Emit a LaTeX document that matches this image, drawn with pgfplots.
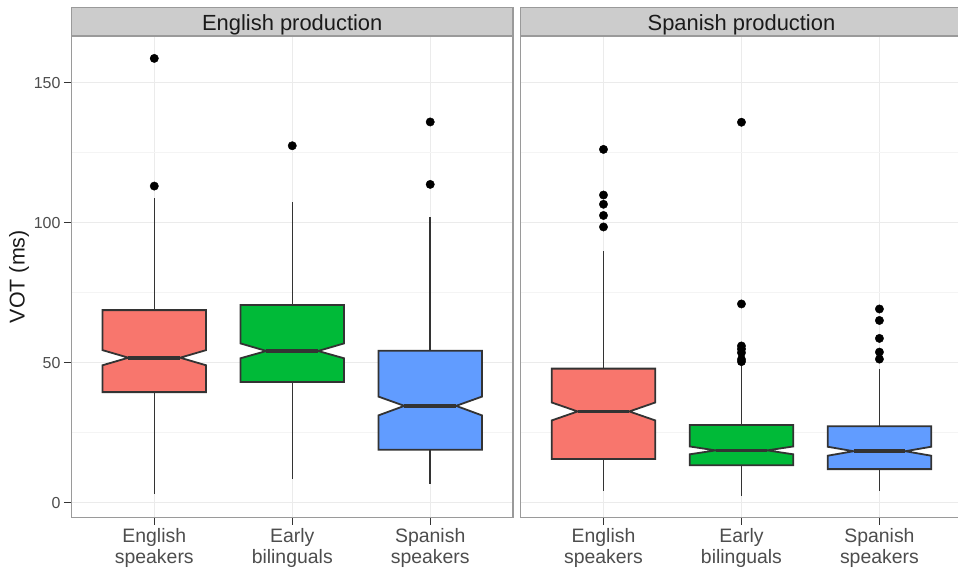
\documentclass[border=0pt]{standalone}
\usepackage{pgfplots}
\pgfplotsset{compat=1.18}
\usepackage{fontspec}
\setmainfont{Liberation Sans}

\definecolor{ggred}{HTML}{F8766D}
\definecolor{gggreen}{HTML}{00BA38}
\definecolor{ggblue}{HTML}{619CFF}
\definecolor{gridmajor}{HTML}{EBEBEB}
\definecolor{gridminor}{HTML}{F4F4F4}
\definecolor{bordergrey}{HTML}{9A9A9A}
\definecolor{stripfill}{HTML}{CCCCCC}
\definecolor{tickgrey}{HTML}{4D4D4D}
\definecolor{ink}{HTML}{333333}
\definecolor{striptext}{HTML}{1A1A1A}

% one notched box: x, lower whisker, Q1, notch low, median, notch high, Q3, upper whisker, fill
\newcommand{\notchbox}[9]{%
  \pgfmathsetmacro{\xl}{#1-0.375}%
  \pgfmathsetmacro{\xr}{#1+0.375}%
  \pgfmathsetmacro{\nl}{#1-0.1875}%
  \pgfmathsetmacro{\nr}{#1+0.1875}%
  \edef\doplots{%
    \noexpand\addplot[whisker] coordinates {(#1,#2) (#1,#3)};
    \noexpand\addplot[whisker] coordinates {(#1,#7) (#1,#8)};
    \noexpand\addplot[boxline, fill=#9] coordinates {(\xl,#3) (\xr,#3) (\xr,#4) (\nr,#5) (\xr,#6) (\xr,#7) (\xl,#7) (\xl,#6) (\nl,#5) (\xl,#4)} -- cycle;
    \noexpand\addplot[medianline] coordinates {(\nl,#5) (\nr,#5)};
  }%
  \doplots
}

\pgfplotsset{
  whisker/.style={draw=ink, line width=1.5bp},
  boxline/.style={draw=ink, line width=1.8bp, line join=miter},
  medianline/.style={draw=ink, line width=3.6bp},
  outlier/.style={only marks, mark=*, mark size=4.2bp, mark options={fill=black, draw=black}},
  facet/.style={
    scale only axis, width=441.5bp, height=481.3bp,
    xmin=0.4, xmax=3.6, ymin=-5.2, ymax=166.7,
    xtick={1,2,3},
    xticklabels={{English\\speakers},{Early\\bilinguals},{Spanish\\speakers}},
    xticklabel style={align=center, font=\fontsize{19.5}{21}\selectfont, text=tickgrey},
    ytick={0,50,100,150}, minor ytick={25,75,125},
    yticklabel style={font=\fontsize{16}{18}\selectfont, text=tickgrey},
    /pgf/number format/assume math mode=true,
    xmajorgrids, ymajorgrids, yminorgrids,
    major grid style={draw=gridmajor, line width=1.2bp},
    minor grid style={draw=gridminor, line width=0.9bp},
    axis line style={draw=bordergrey, line width=1.2bp},
    tick align=outside, tick pos=left,
    major tick length=7.5bp, minor tick length=0bp,
    tick style={draw=ink, line width=1.2bp},
  },
}

\begin{document}
\begin{tikzpicture}
\useasboundingbox (0,0) rectangle (958bp,572bp);

\begin{axis}[facet, name=p1, at={(71.5bp,54.7bp)}, anchor=south west,
  ylabel={VOT (ms)},
  every axis y label/.style={at={(axis description cs:-0.1189,0.5)}, rotate=90, anchor=center,
    font=\fontsize{21.5}{24}\selectfont, text=striptext}]
  \notchbox{1}{3.1}{39.5}{49.1}{51.8}{54.5}{68.8}{108.8}{ggred}
  \notchbox{2}{8.5}{43.1}{51.6}{54.2}{56.9}{70.6}{107.4}{gggreen}
  \notchbox{3}{6.8}{18.9}{31.2}{34.6}{37.9}{54.3}{102.1}{ggblue}
  \addplot[outlier] coordinates {(1,158.7) (1,113.1) (2,127.5) (3,136.0) (3,113.7)};
\end{axis}

\begin{axis}[facet, name=p2, at={(520.7bp,54.7bp)}, anchor=south west,
  yticklabels={}, ytick style={draw=none}]
  \notchbox{1}{4.2}{15.6}{29.4}{32.6}{35.8}{47.9}{90.0}{ggred}
  \notchbox{2}{2.5}{13.4}{17.3}{18.7}{20.1}{27.8}{49.2}{gggreen}
  \notchbox{3}{4.2}{12.0}{16.8}{18.4}{20.0}{27.3}{47.6}{ggblue}
  \addplot[outlier] coordinates {(1,126.2) (1,109.9) (1,106.6) (1,102.6) (1,98.5)
    (2,135.9) (2,71.0) (2,56.0) (2,54.9) (2,53.6) (2,51.2) (2,50.4)
    (3,69.2) (3,65.1) (3,58.7) (3,53.8) (3,51.3)};
\end{axis}

% facet strips
\foreach \p/\t in {p1/English production, p2/Spanish production}{
  \draw[fill=stripfill, draw=bordergrey, line width=1.2bp]
    (\p.north west) rectangle ([yshift=28.5bp]\p.north east);
  \node[anchor=base, font=\fontsize{22}{26}\selectfont, text=striptext, inner sep=0pt]
    at ([yshift=5bp]\p.north) {\t};
}
\end{tikzpicture}
\end{document}
